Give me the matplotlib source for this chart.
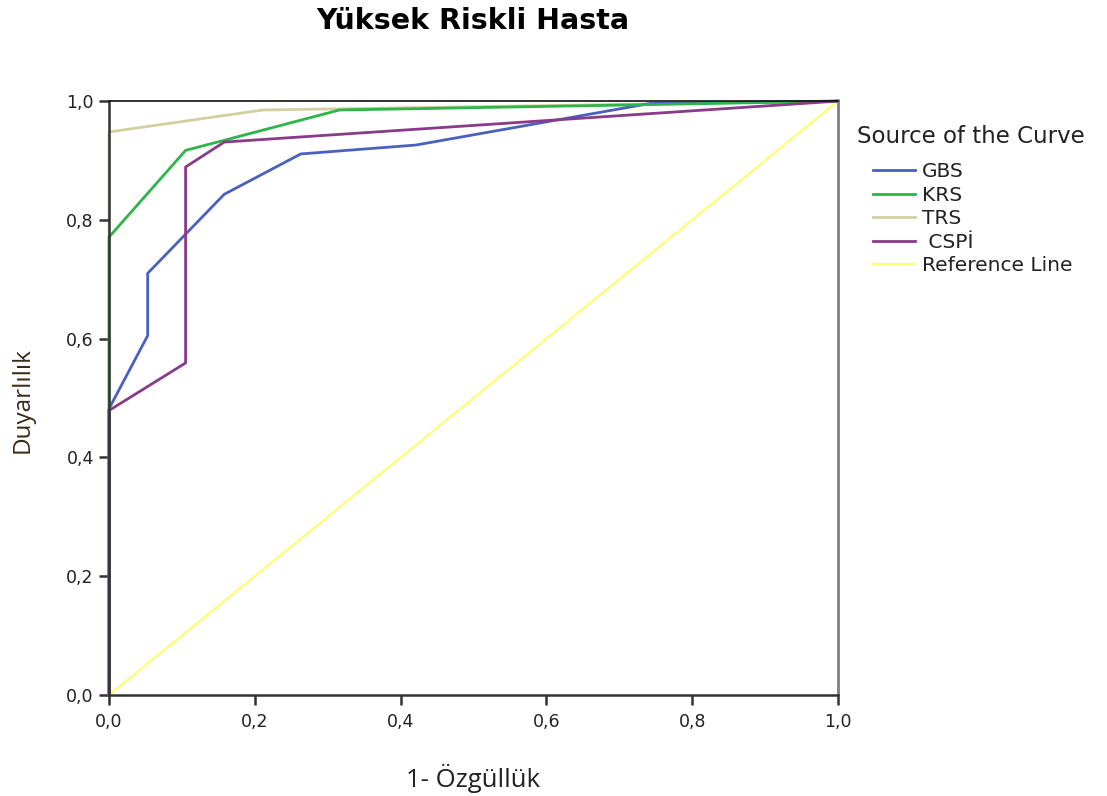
import matplotlib
matplotlib.use("Agg")
import matplotlib.pyplot as plt

plt.rcParams["font.family"] = ["DejaVu Sans"]

title = "Yüksek Riskli Hasta"
xlabel = "1- Özgüllük"
ylabel = "Duyarlılık"
legend_title = "Source of the Curve"

gbs_x = [0.0, 0.0, 0.053, 0.053, 0.158, 0.263, 0.421, 0.742, 1.0]
gbs_y = [0.0, 0.482, 0.605, 0.710, 0.843, 0.911, 0.926, 0.996, 1.0]

krs_x = [0.0, 0.0, 0.105, 0.158, 0.316, 0.737, 1.0]
krs_y = [0.0, 0.771, 0.917, 0.934, 0.985, 0.994, 1.0]

trs_x = [0.0, 0.0, 0.211, 1.0]
trs_y = [0.0, 0.948, 0.985, 1.0]

cspi_x = [0.0, 0.0, 0.105, 0.105, 0.158, 1.0]
cspi_y = [0.0, 0.479, 0.559, 0.889, 0.931, 1.0]

ref_x = [0.0, 1.0]
ref_y = [0.0, 1.0]

ticks = [0.0, 0.2, 0.4, 0.6, 0.8, 1.0]
tick_labels = ["0,0", "0,2", "0,4", "0,6", "0,8", "1,0"]

fig = plt.figure(figsize=(11.07, 7.96), dpi=100)
ax = fig.add_axes([0.0985, 0.127, 0.6585, 0.746])

ax.plot(ref_x, ref_y, color="#FFFF6A", lw=1.5, label="Reference Line", zorder=1.0, clip_on=False)
ax.plot(trs_x, trs_y, color="#D4CFA0", lw=2, label="TRS", zorder=1.2, clip_on=False)
ax.plot(gbs_x, gbs_y, color="#4A60C0", lw=2, label="GBS", zorder=1.4, clip_on=False)
ax.plot(krs_x, krs_y, color="#2DB54A", lw=2, label="KRS", zorder=1.6, clip_on=False)
ax.plot(cspi_x, cspi_y, color="#8A3A8A", lw=2, label=" CSPİ", zorder=1.8, clip_on=False)

ax.set_xlim(0, 1)
ax.set_ylim(0, 1)
ax.set_xticks(ticks)
ax.set_xticklabels(tick_labels)
ax.set_yticks(ticks)
ax.set_yticklabels(tick_labels)
ax.tick_params(direction="out", length=7, width=1.8, labelsize=12.5,
               color="#333333", labelcolor="#222222", pad=4)
ax.tick_params(axis="x", pad=6)

for side in ["left", "bottom"]:
    ax.spines[side].set_color("#333333")
    ax.spines[side].set_linewidth(1.8)
ax.spines["top"].set_color("#111111")
ax.spines["top"].set_linewidth(1.2)
ax.spines["right"].set_color("#808080")
ax.spines["right"].set_linewidth(2)

fig.text(0.427, 0.974, title, ha="center", va="center", fontsize=20.5, fontweight="bold")
fig.text(0.427, 0.022, xlabel, ha="center", va="center", fontsize=18.5,
         family=["Open Sans", "DejaVu Sans"], color="#222222")
fig.text(0.02, 0.497, ylabel, ha="center", va="center", rotation=90, fontsize=17.5,
         family=["Open Sans", "DejaVu Sans"], color="#3a2a1a")
fig.text(0.774, 0.828, legend_title, ha="left", va="center", fontsize=16.5, color="#222222")

handles, labels = ax.get_legend_handles_labels()
order = ["GBS", "KRS", "TRS", " CSPİ", "Reference Line"]
hmap = dict(zip(labels, handles))
leg = fig.legend(
    [hmap[k] for k in order],
    order,
    loc="upper left",
    bbox_to_anchor=(0.7886, 0.796),
    frameon=False,
    fontsize=14.5,
    handlelength=2.1,
    handletextpad=0.33,
    labelspacing=0.22,
    borderpad=0,
    borderaxespad=0,
)
for t in leg.get_texts():
    t.set_color("#222222")

fig.savefig("out.png", dpi=100)
